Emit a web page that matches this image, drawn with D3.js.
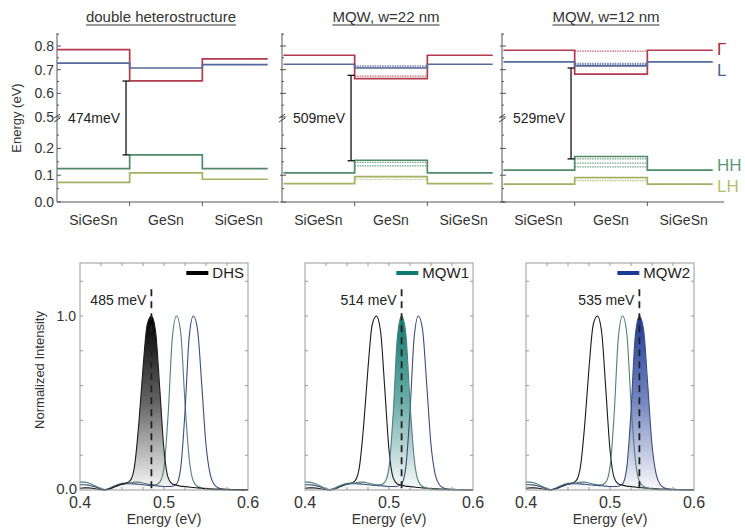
<!DOCTYPE html>
<html>
<head>
<meta charset="utf-8">
<script src="https://cdn.jsdelivr.net/npm/d3@7"></script>
<style>
  body { margin: 0; background: #fff; }
  svg { font-family: "Liberation Sans", Arial, sans-serif; }
</style>
</head>
<body>
<svg id="fig" width="745" height="531"></svg>
<script>
// ---- band diagrams (eV), each row = [barrier, well, barrier]
const panelTitles = ["double heterostructure", "MQW, w=22 nm", "MQW, w=12 nm"];
const regions = ["SiGeSn", "GeSn", "SiGeSn"];
const bandNames = ["Γ", "L", "HH", "LH"];
const gammaBand = [[0.785, 0.653, 0.746], [0.761, 0.662, 0.761], [0.782, 0.681, 0.782]];
const lBand     = [[0.728, 0.707, 0.721], [0.723, 0.707, 0.723], [0.733, 0.716, 0.733]];
const hhBand    = [[0.125, 0.176, 0.125], [0.109, 0.156, 0.109], [0.119, 0.170, 0.119]];
const lhBand    = [[0.073, 0.109, 0.085], [0.069, 0.095, 0.069], [0.067, 0.091, 0.067]];
// confined states in the wells (dotted)
const gammaStates = [[], [0.673], [0.778]];
const lStates     = [[], [0.711, 0.716], [0.721, 0.727]];
const hhStates    = [[], [0.148, 0.135], [0.161, 0.145, 0.131]];
const lhStates    = [[], [0.085], [0.080]];
const gapLabels = ["474meV", "509meV", "529meV"];
const gapTop    = [0.652, 0.676, 0.707];
const gapBottom = [0.176, 0.154, 0.161];
const yTicks = [0, 0.1, 0.2, 0.5, 0.6, 0.7, 0.8];
const yMinor = [0.05, 0.15, 0.25, 0.55, 0.65, 0.75, 0.85];

// ---- PL spectra
const energy = [0.400,0.405,0.410,0.415,0.420,0.425,0.430,0.435,0.440,0.445,0.450,0.455,0.460,0.465,0.470,0.475,0.480,0.485,0.490,0.495,0.500,0.505,0.510,0.515,0.520,0.525,0.530,0.535,0.540,0.545,0.550,0.555,0.560,0.565,0.570,0.575,0.580,0.585,0.590,0.595,0.600];
const dhsPL  = [0.010,0.012,0.012,0.010,0.006,0.002,0.000,0.006,0.015,0.025,0.033,0.040,0.055,0.140,0.380,0.700,0.950,1.000,0.910,0.580,0.230,0.070,0.035,0.028,0.022,0.020,0.017,0.014,0.012,0.010,0.008,0.007,0.006,0.005,0.004,0.004,0.003,0.003,0.002,0.002,0.002];
const mqw1PL = [0.045,0.045,0.040,0.030,0.018,0.008,0.003,0.010,0.022,0.032,0.038,0.040,0.042,0.045,0.045,0.040,0.034,0.030,0.030,0.045,0.130,0.440,0.880,1.000,0.900,0.500,0.180,0.050,0.020,0.012,0.006,0.003,0.002,0.002,0.001,0.001,0.001,0.001,0.001,0.001,0.001];
const mqw2PL = [0.030,0.030,0.028,0.022,0.014,0.006,0.002,0.008,0.018,0.028,0.034,0.036,0.036,0.035,0.033,0.030,0.028,0.026,0.024,0.022,0.020,0.020,0.022,0.035,0.130,0.450,0.880,1.000,0.920,0.600,0.260,0.090,0.030,0.012,0.006,0.003,0.002,0.001,0.001,0.001,0.001];
const seriesNames = ["DHS", "MQW1", "MQW2"];
const peakEnergy = [0.485, 0.515, 0.535];
const peakLabels = ["485 meV", "514 meV", "535 meV"];
const xTicksPL = [0.4, 0.5, 0.6];

const svg = d3.select("#fig");
const axisCol = "#555";
const bandCols = ["#b33a4b", "#56699a", "#4f8a6a", "#a4b160"];
const bandLabelCols = ["#b0283a", "#4d5f92", "#5f9a78", "#b4c070"];
const outlineCols = ["#1a1a1a", "#517f7c", "#3d4c7a"];
const fillCols = ["#000000", "#0f7a72", "#1d3a98"];

// ===== top row: band diagrams =====
const topLeft = [57, 282, 502];
const topW = 218;
const y = d3.scaleLinear().domain([0, 0.31, 0.5, 0.855]).range([202, 119, 117, 33]);
const bands = [gammaBand, lBand, hhBand, lhBand];
const states = [gammaStates, lStates, hhStates, lhStates];

topLeft.forEach((left, p) => {
  const x = d3.scaleLinear().domain([0, 3]).range([left, left + topW]);
  const g = svg.append("g");

  // title with underline
  const t = g.append("text").attr("x", left + 104).attr("y", 22)
    .attr("text-anchor", "middle").attr("font-size", 15).attr("fill", "#333")
    .text(panelTitles[p]);
  const tw = t.node().getComputedTextLength();
  g.append("line").attr("x1", left + 104 - tw / 2).attr("x2", left + 104 + tw / 2)
    .attr("y1", 25).attr("y2", 25).attr("stroke", "#333").attr("stroke-width", 1);

  // axes
  g.append("line").attr("x1", left).attr("x2", left).attr("y1", 33).attr("y2", 202)
    .attr("stroke", axisCol).attr("stroke-width", 1);
  g.append("line").attr("x1", left).attr("x2", left + 222).attr("y1", 202).attr("y2", 202)
    .attr("stroke", axisCol).attr("stroke-width", 1);
  yTicks.forEach(v => {
    g.append("line").attr("x1", p === 0 ? left : left - 2).attr("x2", left + 4)
      .attr("y1", y(v)).attr("y2", y(v)).attr("stroke", axisCol);
    if (p === 0) {
      g.append("text").attr("x", left - 3).attr("y", y(v) + 5)
        .attr("text-anchor", "end").attr("font-size", 14).attr("fill", "#333")
        .text(v.toFixed(1));
    }
  });
  yMinor.forEach(v => {
    g.append("line").attr("x1", left).attr("x2", left + 2)
      .attr("y1", y(v)).attr("y2", y(v)).attr("stroke", axisCol);
  });
  // axis break
  [-2, 2].forEach(d => {
    g.append("line").attr("x1", left - 3).attr("x2", left + 3)
      .attr("y1", y(0.4) + d + 2).attr("y2", y(0.4) + d - 2)
      .attr("stroke", "#444").attr("stroke-width", 1);
  });
  [1, 2].forEach(v => {
    g.append("line").attr("x1", x(v)).attr("x2", x(v)).attr("y1", 202).attr("y2", 206)
      .attr("stroke", axisCol);
  });
  regions.forEach((r, i) => {
    g.append("text").attr("x", x(i + 0.5)).attr("y", 225)
      .attr("text-anchor", "middle").attr("font-size", 14).attr("fill", "#333").text(r);
  });
  if (p === 0) {
    g.append("text").attr("transform", "translate(21,118) rotate(-90)")
      .attr("text-anchor", "middle").attr("font-size", 13).attr("fill", "#333")
      .text("Energy (eV)");
  }

  // confined states
  states.forEach((s, b) => {
    s[p].forEach(v => {
      g.append("line").attr("x1", x(1)).attr("x2", x(2)).attr("y1", y(v)).attr("y2", y(v))
        .attr("stroke", bandCols[b]).attr("stroke-width", 1.2)
        .attr("stroke-dasharray", "1.5,1").attr("opacity", 0.8);
    });
  });

  // band edges
  const stepLine = d3.line().x(d => x(d[0])).y(d => y(d[1])).curve(d3.curveStepAfter);
  bands.forEach((band, b) => {
    const v = band[p];
    const pts = [[p === 0 ? 0 : 0.02, v[0]], [1, v[1]], [2, v[2]], [2.9, v[2]]];
    g.append("path").attr("d", stepLine(pts)).attr("fill", "none")
      .attr("stroke", bandCols[b]).attr("stroke-width", 1.7);
  });

  // gap arrow
  const ax = x(0.95);
  g.append("line").attr("x1", ax).attr("x2", ax).attr("y1", y(gapTop[p])).attr("y2", y(gapBottom[p]))
    .attr("stroke", "#111").attr("stroke-width", 1.3);
  [gapTop[p], gapBottom[p]].forEach(v => {
    g.append("line").attr("x1", ax - 3.5).attr("x2", ax + 3.5).attr("y1", y(v)).attr("y2", y(v))
      .attr("stroke", "#111").attr("stroke-width", 1.3);
  });
  g.append("text").attr("x", ax - 6).attr("y", 123).attr("text-anchor", "end")
    .attr("font-size", 14).attr("fill", "#222").text(gapLabels[p]);
});

// band labels on the right
const labelY = [gammaBand[2][2], lBand[2][2], hhBand[2][2], lhBand[2][2]];
const labelDy = [5, 14, 1, 8];
bandNames.forEach((n, b) => {
  svg.append("text").attr("x", 717).attr("y", y(labelY[b]) + labelDy[b])
    .attr("font-size", 17).attr("fill", bandLabelCols[b]).text(n);
});

// ===== bottom row: PL spectra =====
const plLeft = [80, 305, 526];
const plW = 168;
const plSeries = [dhsPL, mqw1PL, mqw2PL];
const yPL = d3.scaleLinear().domain([0, 1.305]).range([490, 263]);
const defs = svg.append("defs");

plLeft.forEach((left, p) => {
  const x = d3.scaleLinear().domain([0.4, 0.6]).range([left, left + plW]);
  const g = svg.append("g");

  const grad = defs.append("linearGradient").attr("id", "grad" + p)
    .attr("gradientUnits", "userSpaceOnUse")
    .attr("x1", 0).attr("x2", 0).attr("y1", yPL(1)).attr("y2", yPL(0));
  grad.append("stop").attr("offset", 0).attr("stop-color", fillCols[p]);
  grad.append("stop").attr("offset", 0.5).attr("stop-color", d3.interpolateRgb(fillCols[p], "#fff")(0.4));
  grad.append("stop").attr("offset", 1).attr("stop-color", "#fafafa");

  const area = d3.area().x((d, i) => x(energy[i])).y0(yPL(0)).y1(d => yPL(d))
    .curve(d3.curveMonotoneX);
  const line = d3.line().x((d, i) => x(energy[i])).y(d => yPL(d)).curve(d3.curveMonotoneX);

  g.append("path").attr("d", area(plSeries[p])).attr("fill", "url(#grad" + p + ")");
  plSeries.forEach((s, k) => {
    if (k === p) return;
    g.append("path").attr("d", line(s)).attr("fill", "none")
      .attr("stroke", outlineCols[k]).attr("stroke-width", 1.1);
  });
  g.append("path").attr("d", line(plSeries[p])).attr("fill", "none")
    .attr("stroke", outlineCols[p]).attr("stroke-width", 1.1);

  // dashed peak marker
  g.append("line").attr("x1", x(peakEnergy[p])).attr("x2", x(peakEnergy[p]))
    .attr("y1", yPL(0.01)).attr("y2", yPL(1.18))
    .attr("stroke", "#222").attr("stroke-width", 1.8).attr("stroke-dasharray", "7,5");
  g.append("text").attr("x", x(peakEnergy[p]) - 5).attr("y", 305)
    .attr("text-anchor", "end").attr("font-size", 14).attr("fill", "#222").text(peakLabels[p]);

  // frame and ticks
  g.append("rect").attr("x", left).attr("y", 263).attr("width", plW).attr("height", 227)
    .attr("fill", "none").attr("stroke", "#999").attr("stroke-width", 1);
  d3.range(0.2, 1.3, 0.2).forEach(v => {
    g.append("line").attr("x1", left).attr("x2", left + 3).attr("y1", yPL(v)).attr("y2", yPL(v)).attr("stroke", "#999");
    g.append("line").attr("x1", left + plW - 3).attr("x2", left + plW).attr("y1", yPL(v)).attr("y2", yPL(v)).attr("stroke", "#999");
  });
  d3.range(0.425, 0.6, 0.025).forEach(v => {
    g.append("line").attr("x1", x(v)).attr("x2", x(v)).attr("y1", 263).attr("y2", 266).attr("stroke", "#999");
    g.append("line").attr("x1", x(v)).attr("x2", x(v)).attr("y1", 490).attr("y2", 487).attr("stroke", "#999");
  });
  xTicksPL.forEach(v => {
    g.append("text").attr("x", x(v)).attr("y", 508).attr("text-anchor", "middle")
      .attr("font-size", 16).attr("fill", "#333").text(v.toFixed(1));
  });
  g.append("text").attr("x", left + plW / 2).attr("y", 524).attr("text-anchor", "middle")
    .attr("font-size", 14).attr("fill", "#333").text("Energy (eV)");

  // legend
  const lt = g.append("text").attr("x", left + plW - 4).attr("y", 278).attr("text-anchor", "end")
    .attr("font-size", 15).attr("fill", "#222").text(seriesNames[p]);
  const lw = lt.node().getComputedTextLength();
  g.append("line").attr("x1", left + plW - 8 - lw - 22).attr("x2", left + plW - 8 - lw)
    .attr("y1", 273).attr("y2", 273).attr("stroke", p === 0 ? "#000" : fillCols[p]).attr("stroke-width", 4);

  if (p === 0) {
    g.append("text").attr("x", left - 4).attr("y", yPL(1) + 5).attr("text-anchor", "end")
      .attr("font-size", 14).attr("fill", "#333").text("1.0");
    g.append("text").attr("x", left - 3).attr("y", yPL(0) + 4).attr("text-anchor", "end")
      .attr("font-size", 15).attr("fill", "#333").text("0.0");
    g.append("text").attr("transform", "translate(44,370) rotate(-90)")
      .attr("text-anchor", "middle").attr("font-size", 13).attr("fill", "#333")
      .text("Normalized Intensity");
  }
});
</script>
</body>
</html>
